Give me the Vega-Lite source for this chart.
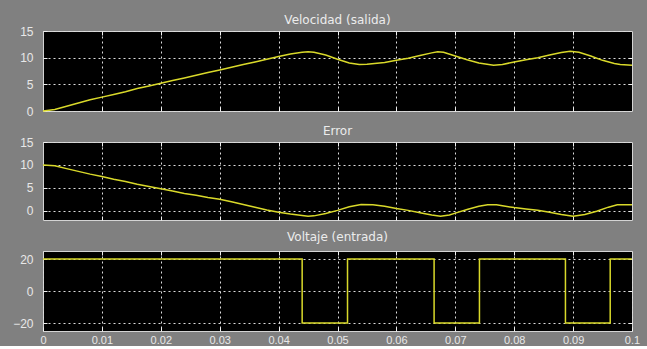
{
  "$schema": "https://vega.github.io/schema/vega-lite/v6.json",
  "background": "#808080",
  "padding": {"top": 13, "left": 12, "right": 14, "bottom": 0},
  "datasets": {
    "vel": [
      {"t": 0, "v": 0}, {"t": 0.002, "v": 0.3}, {"t": 0.004, "v": 0.9}, {"t": 0.006, "v": 1.5},
      {"t": 0.008, "v": 2.1}, {"t": 0.01, "v": 2.6}, {"t": 0.012, "v": 3.1}, {"t": 0.014, "v": 3.6},
      {"t": 0.016, "v": 4.2}, {"t": 0.018, "v": 4.7}, {"t": 0.02, "v": 5.2}, {"t": 0.022, "v": 5.7},
      {"t": 0.024, "v": 6.2}, {"t": 0.026, "v": 6.7}, {"t": 0.028, "v": 7.2}, {"t": 0.03, "v": 7.7},
      {"t": 0.032, "v": 8.2}, {"t": 0.034, "v": 8.7}, {"t": 0.036, "v": 9.2}, {"t": 0.038, "v": 9.7},
      {"t": 0.04, "v": 10.2}, {"t": 0.042, "v": 10.7}, {"t": 0.044, "v": 11.0}, {"t": 0.045, "v": 11.1},
      {"t": 0.046, "v": 11.0}, {"t": 0.048, "v": 10.5}, {"t": 0.05, "v": 9.7}, {"t": 0.052, "v": 9.0},
      {"t": 0.0537, "v": 8.7}, {"t": 0.055, "v": 8.75}, {"t": 0.058, "v": 9.1}, {"t": 0.06, "v": 9.5},
      {"t": 0.062, "v": 9.9}, {"t": 0.064, "v": 10.4}, {"t": 0.066, "v": 10.9}, {"t": 0.067, "v": 11.1},
      {"t": 0.068, "v": 11.0}, {"t": 0.07, "v": 10.3}, {"t": 0.072, "v": 9.6}, {"t": 0.074, "v": 9.0},
      {"t": 0.0765, "v": 8.6}, {"t": 0.078, "v": 8.7}, {"t": 0.08, "v": 9.2}, {"t": 0.082, "v": 9.6},
      {"t": 0.084, "v": 10.0}, {"t": 0.086, "v": 10.5}, {"t": 0.088, "v": 10.95}, {"t": 0.0895, "v": 11.2},
      {"t": 0.091, "v": 11.0}, {"t": 0.093, "v": 10.3}, {"t": 0.095, "v": 9.5}, {"t": 0.097, "v": 8.9},
      {"t": 0.098, "v": 8.7}, {"t": 0.1, "v": 8.6}
    ],
    "err": [
      {"t": 0, "e": 10}, {"t": 0.002, "e": 9.8}, {"t": 0.004, "e": 9.2}, {"t": 0.006, "e": 8.6},
      {"t": 0.008, "e": 8.0}, {"t": 0.01, "e": 7.5}, {"t": 0.012, "e": 6.9}, {"t": 0.014, "e": 6.4},
      {"t": 0.016, "e": 5.8}, {"t": 0.018, "e": 5.3}, {"t": 0.02, "e": 4.8}, {"t": 0.022, "e": 4.3},
      {"t": 0.024, "e": 3.8}, {"t": 0.026, "e": 3.4}, {"t": 0.028, "e": 2.9}, {"t": 0.03, "e": 2.5},
      {"t": 0.032, "e": 2.0}, {"t": 0.034, "e": 1.4}, {"t": 0.036, "e": 0.8}, {"t": 0.038, "e": 0.2},
      {"t": 0.04, "e": -0.3}, {"t": 0.042, "e": -0.7}, {"t": 0.044, "e": -1.0}, {"t": 0.045, "e": -1.2},
      {"t": 0.046, "e": -1.1}, {"t": 0.048, "e": -0.6}, {"t": 0.05, "e": 0.1}, {"t": 0.052, "e": 0.9},
      {"t": 0.054, "e": 1.4}, {"t": 0.056, "e": 1.3}, {"t": 0.058, "e": 1.0}, {"t": 0.06, "e": 0.5},
      {"t": 0.062, "e": 0.1}, {"t": 0.064, "e": -0.4}, {"t": 0.066, "e": -0.9}, {"t": 0.0675, "e": -1.2},
      {"t": 0.069, "e": -0.9}, {"t": 0.07, "e": -0.5}, {"t": 0.072, "e": 0.3}, {"t": 0.074, "e": 1.0},
      {"t": 0.0755, "e": 1.3}, {"t": 0.077, "e": 1.3}, {"t": 0.078, "e": 1.1}, {"t": 0.08, "e": 0.7},
      {"t": 0.082, "e": 0.4}, {"t": 0.084, "e": 0.1}, {"t": 0.086, "e": -0.3}, {"t": 0.088, "e": -0.8},
      {"t": 0.09, "e": -1.2}, {"t": 0.092, "e": -0.8}, {"t": 0.094, "e": -0.1}, {"t": 0.096, "e": 0.8},
      {"t": 0.0975, "e": 1.3}, {"t": 0.1, "e": 1.3}
    ],
    "volt": [
      {"t": 0, "u": 20}, {"t": 0.044, "u": -20}, {"t": 0.0517, "u": 20}, {"t": 0.0664, "u": -20},
      {"t": 0.0741, "u": 20}, {"t": 0.0887, "u": -20}, {"t": 0.0963, "u": 20}, {"t": 0.1, "u": 20}
    ]
  },
  "config": {
    "view": {"fill": "#000000", "stroke": "#d4d4d4", "strokeWidth": 1},
    "axis": {
      "domain": false,
      "labelColor": "#e8e8e8",
      "labelFont": "Liberation Sans",
      "labelFontSize": 12,
      "tickColor": "#f0f0f0",
      "tickSize": -4,
      "tickWidth": 1,
      "gridColor": "#dddddd",
      "gridDash": [2, 3],
      "gridOpacity": 1,
      "gridWidth": 1,
      "labelPadding": 14,
      "title": null
    },
    "title": {"color": "#ececec", "font": "DejaVu Sans", "fontSize": 12, "fontWeight": "normal", "offset": -2},
    "concat": {"spacing": 6},
    "line": {"color": "#d9d92a", "strokeWidth": 1.5}
  },
  "vconcat": [
    {
      "title": "Velocidad (salida)",
      "width": 589, "height": 80,
      "data": {"name": "vel"},
      "layer": [
        {
          "mark": {"type": "line", "opacity": 0},
          "encoding": {
            "x": {"field": "t", "type": "quantitative", "scale": {"domain": [0, 0.1], "nice": false},
                  "axis": {"orient": "top", "labels": false, "grid": false, "minExtent": 0, "maxExtent": 0, "values": [0.01, 0.02, 0.03, 0.04, 0.05, 0.06, 0.07, 0.08, 0.09]}},
            "y": {"field": "v", "type": "quantitative", "scale": {"domain": [0, 15], "nice": false, "zero": false},
                  "axis": {"orient": "right", "labels": false, "grid": false, "minExtent": 0, "maxExtent": 0, "values": [5, 10]}}
          }
        },
        {
          "mark": {"type": "line"},
          "encoding": {
            "x": {"field": "t", "type": "quantitative", "scale": {"domain": [0, 0.1], "nice": false},
                  "axis": {"orient": "bottom", "labels": false, "grid": true, "minExtent": 0, "maxExtent": 0, "values": [0.01, 0.02, 0.03, 0.04, 0.05, 0.06, 0.07, 0.08, 0.09]}},
            "y": {"field": "v", "type": "quantitative", "scale": {"domain": [0, 15], "nice": false, "zero": false},
                  "axis": {"orient": "left", "grid": true, "values": [0, 5, 10, 15]}}
          }
        }
      ],
      "resolve": {"axis": {"x": "independent", "y": "independent"}}
    },
    {
      "title": "Error",
      "width": 589, "height": 78,
      "data": {"name": "err"},
      "layer": [
        {
          "mark": {"type": "line", "opacity": 0},
          "encoding": {
            "x": {"field": "t", "type": "quantitative", "scale": {"domain": [0, 0.1], "nice": false},
                  "axis": {"orient": "top", "labels": false, "grid": false, "minExtent": 0, "maxExtent": 0, "values": [0.01, 0.02, 0.03, 0.04, 0.05, 0.06, 0.07, 0.08, 0.09]}},
            "y": {"field": "e", "type": "quantitative", "scale": {"domain": [-2, 15], "nice": false, "zero": false},
                  "axis": {"orient": "right", "labels": false, "grid": false, "minExtent": 0, "maxExtent": 0, "values": [0, 5, 10]}}
          }
        },
        {
          "mark": {"type": "line"},
          "encoding": {
            "x": {"field": "t", "type": "quantitative", "scale": {"domain": [0, 0.1], "nice": false},
                  "axis": {"orient": "bottom", "labels": false, "grid": true, "minExtent": 3, "maxExtent": 3, "values": [0.01, 0.02, 0.03, 0.04, 0.05, 0.06, 0.07, 0.08, 0.09]}},
            "y": {"field": "e", "type": "quantitative", "scale": {"domain": [-2, 15], "nice": false, "zero": false},
                  "axis": {"orient": "left", "grid": true, "values": [0, 5, 10, 15]}}
          }
        }
      ],
      "resolve": {"axis": {"x": "independent", "y": "independent"}}
    },
    {
      "title": {"text": "Voltaje (entrada)", "offset": 7},
      "width": 589, "height": 80,
      "data": {"name": "volt"},
      "layer": [
        {
          "mark": {"type": "line", "opacity": 0, "interpolate": "step-after"},
          "encoding": {
            "x": {"field": "t", "type": "quantitative", "scale": {"domain": [0, 0.1], "nice": false},
                  "axis": {"orient": "top", "labels": false, "grid": false, "minExtent": 0, "maxExtent": 0, "values": [0.01, 0.02, 0.03, 0.04, 0.05, 0.06, 0.07, 0.08, 0.09]}},
            "y": {"field": "u", "type": "quantitative", "scale": {"domain": [-25, 25], "nice": false, "zero": false},
                  "axis": {"orient": "right", "labels": false, "grid": false, "minExtent": 0, "maxExtent": 0, "values": [-20, 0, 20]}}
          }
        },
        {
          "mark": {"type": "line", "interpolate": "step-after"},
          "encoding": {
            "x": {"field": "t", "type": "quantitative", "scale": {"domain": [0, 0.1], "nice": false},
                  "axis": {"orient": "bottom", "grid": true, "labelFontSize": 11, "labelPadding": 7, "values": [0, 0.01, 0.02, 0.03, 0.04, 0.05, 0.06, 0.07, 0.08, 0.09, 0.1], "format": "~g", "labelFlush": false}},
            "y": {"field": "u", "type": "quantitative", "scale": {"domain": [-25, 25], "nice": false, "zero": false},
                  "axis": {"orient": "left", "grid": true, "values": [-20, 0, 20]}}
          }
        }
      ],
      "resolve": {"axis": {"x": "independent", "y": "independent"}}
    }
  ]
}
